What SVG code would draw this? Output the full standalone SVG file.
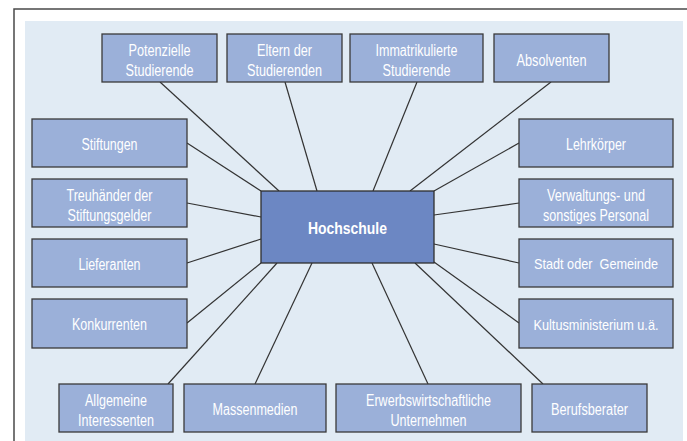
<svg xmlns="http://www.w3.org/2000/svg" width="687" height="441" viewBox="0 0 687 441">
<style>
.bg{fill:#e1ebf4}
.frame{stroke:#4a4a4a;stroke-width:1.5;fill:none}
.n{fill:#9bb0d9;stroke:#3a3a3a;stroke-width:1.3}
.hub{fill:#6c87c3;stroke:#2e2e2e;stroke-width:1.3}
.t{font-family:"Liberation Sans",Arial,sans-serif;font-size:16px;fill:#ffffff;text-anchor:middle}
.s{font-size:14.5px}
.tb{font-family:"Liberation Sans",Arial,sans-serif;font-size:17px;font-weight:bold;fill:#ffffff;text-anchor:middle}
#connectors line{stroke:#333333;stroke-width:1.2}
</style>
<rect width="687" height="441" fill="#ffffff"/>
<rect class="bg" x="25" y="21" width="658" height="420"/>
<path class="frame" d="M14 441 V9 H687"/>
<g id="connectors">
<line x1="160" y1="82" x2="279" y2="191"/>
<line x1="285" y1="82" x2="317" y2="191"/>
<line x1="417" y1="82" x2="373" y2="191"/>
<line x1="551" y1="82" x2="410" y2="191"/>
<line x1="187" y1="143" x2="261" y2="191"/>
<line x1="187" y1="203" x2="261" y2="217"/>
<line x1="187" y1="263" x2="261" y2="239"/>
<line x1="187" y1="323" x2="261" y2="263"/>
<line x1="519" y1="143" x2="434" y2="191"/>
<line x1="519" y1="203" x2="434" y2="215"/>
<line x1="519" y1="263" x2="434" y2="244"/>
<line x1="519" y1="323" x2="434" y2="262"/>
<line x1="277" y1="263" x2="168" y2="384"/>
<line x1="312" y1="263" x2="255" y2="384"/>
<line x1="372" y1="263" x2="428" y2="384"/>
<line x1="415" y1="263" x2="543" y2="384"/>
</g>
<g id="potenzielle"><rect class="n" x="102" y="34" width="115" height="48"/><text class="t" x="159.5" y="55.5" textLength="62" lengthAdjust="spacingAndGlyphs">Potenzielle</text><text class="t" x="159.5" y="75.5" textLength="68" lengthAdjust="spacingAndGlyphs">Studierende</text></g>
<g id="eltern"><rect class="n" x="227" y="34" width="115" height="48"/><text class="t" x="284.5" y="55.5" textLength="55" lengthAdjust="spacingAndGlyphs">Eltern der</text><text class="t" x="284.5" y="75.5" textLength="75" lengthAdjust="spacingAndGlyphs">Studierenden</text></g>
<g id="immatrikulierte"><rect class="n" x="350" y="34" width="133" height="48"/><text class="t" x="416.5" y="55.5" textLength="82" lengthAdjust="spacingAndGlyphs">Immatrikulierte</text><text class="t" x="416.5" y="75.5" textLength="68" lengthAdjust="spacingAndGlyphs">Studierende</text></g>
<g id="absolventen"><rect class="n" x="494" y="34" width="115" height="48"/><text class="t" x="551.5" y="65.5" textLength="70" lengthAdjust="spacingAndGlyphs">Absolventen</text></g>
<g id="stiftungen"><rect class="n" x="32" y="119" width="155" height="48"/><text class="t" x="109.5" y="149.5" textLength="56" lengthAdjust="spacingAndGlyphs">Stiftungen</text></g>
<g id="treuhaender"><rect class="n" x="32" y="179" width="155" height="48"/><text class="t" x="109.5" y="200.5" textLength="86" lengthAdjust="spacingAndGlyphs">Treuhänder der</text><text class="t" x="109.5" y="220.5" textLength="84" lengthAdjust="spacingAndGlyphs">Stiftungsgelder</text></g>
<g id="lieferanten"><rect class="n" x="32" y="239" width="155" height="48"/><text class="t" x="109.5" y="269.5" textLength="62" lengthAdjust="spacingAndGlyphs">Lieferanten</text></g>
<g id="konkurrenten"><rect class="n" x="32" y="299" width="155" height="49"/><text class="t" x="109.5" y="330" textLength="75" lengthAdjust="spacingAndGlyphs">Konkurrenten</text></g>
<g id="lehrkoerper"><rect class="n" x="519" y="119" width="154" height="48"/><text class="t" x="596" y="149.5" textLength="60" lengthAdjust="spacingAndGlyphs">Lehrkörper</text></g>
<g id="verwaltung"><rect class="n" x="519" y="179" width="154" height="48"/><text class="t" x="596" y="200.5" textLength="98" lengthAdjust="spacingAndGlyphs">Verwaltungs- und</text><text class="t" x="596" y="220.5" textLength="106" lengthAdjust="spacingAndGlyphs">sonstiges Personal</text></g>
<g id="stadt"><rect class="n" x="519" y="239" width="154" height="48"/><text class="t s" x="596" y="269" textLength="124" lengthAdjust="spacingAndGlyphs" xml:space="preserve">Stadt oder  Gemeinde</text></g>
<g id="kultus"><rect class="n" x="519" y="299" width="154" height="49"/><text class="t s" x="596" y="329.5" textLength="125" lengthAdjust="spacingAndGlyphs">Kultusministerium u.ä.</text></g>
<g id="allgemeine"><rect class="n" x="59" y="384" width="114" height="48"/><text class="t" x="116" y="405.5" textLength="62" lengthAdjust="spacingAndGlyphs">Allgemeine</text><text class="t" x="116" y="425.5" textLength="76" lengthAdjust="spacingAndGlyphs">Interessenten</text></g>
<g id="massenmedien"><rect class="n" x="184" y="384" width="142" height="48"/><text class="t" x="255" y="415" textLength="85" lengthAdjust="spacingAndGlyphs">Massenmedien</text></g>
<g id="erwerbs"><rect class="n" x="336" y="384" width="185" height="48"/><text class="t" x="428.5" y="405.5" textLength="125" lengthAdjust="spacingAndGlyphs">Erwerbswirtschaftliche</text><text class="t" x="428.5" y="425.5" textLength="76" lengthAdjust="spacingAndGlyphs">Unternehmen</text></g>
<g id="berufsberater"><rect class="n" x="532" y="384" width="115" height="48"/><text class="t" x="589.5" y="415" textLength="77" lengthAdjust="spacingAndGlyphs">Berufsberater</text></g>
<g id="hochschule"><rect class="hub" x="261" y="191" width="173" height="72"/><text class="tb" x="347.5" y="234" textLength="79" lengthAdjust="spacingAndGlyphs">Hochschule</text></g>
</svg>
